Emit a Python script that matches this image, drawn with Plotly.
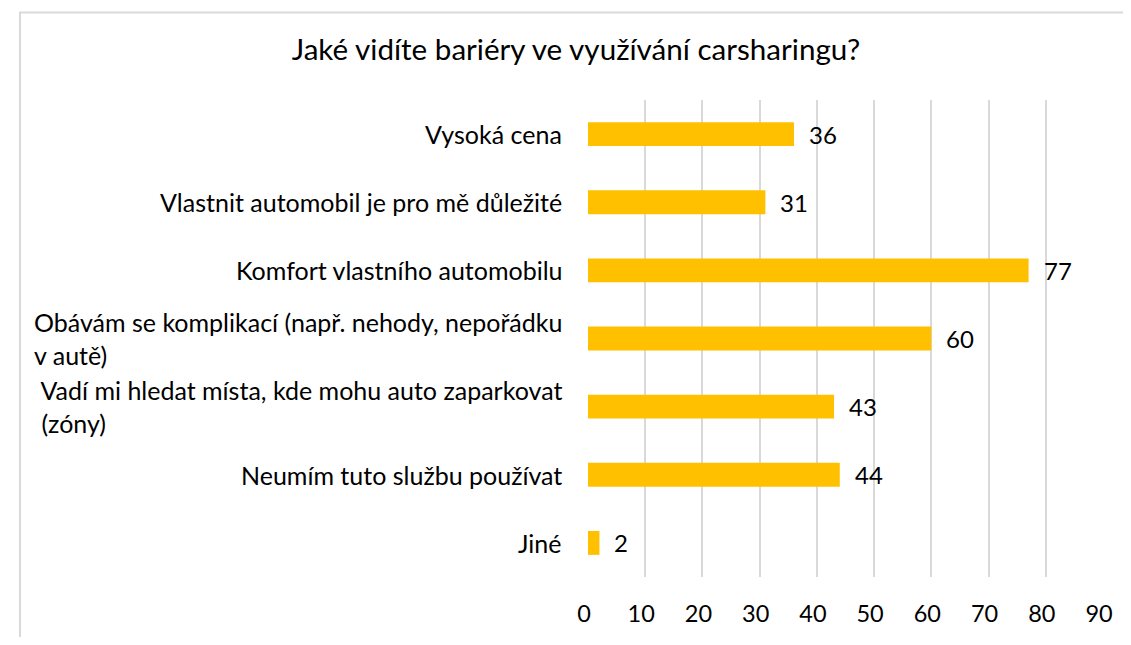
import plotly.graph_objects as go

categories = [
    "Vysoká cena",
    "Vlastnit automobil je pro mě důležité",
    "Komfort vlastního automobilu",
    "Obávám se komplikací (např. nehody, nepořádku<br>v autě)",
    " Vadí mi hledat místa, kde mohu auto zaparkovat<br> (zóny)",
    "Neumím tuto službu používat",
    "Jiné",
]
values = [36, 31, 77, 60, 43, 44, 2]
x_ticks = [0, 10, 20, 30, 40, 50, 60, 70, 80, 90]
title_text = "Jaké vidíte bariéry ve využívání carsharingu?"

FONT = "Lato"
OFF = 8  # page body margin on every side
W, H = 1131 - 2 * OFF, 645 - 2 * OFF
ML, MT = 588 - OFF, 100 - OFF
MR = W - (1113 - OFF)
MB = H - (590 - OFF)

fig = go.Figure()
fig.add_trace(go.Bar(
    x=values, y=categories, orientation="h",
    marker=dict(color="#FFC000", line=dict(width=0)),
    width=0.35, hoverinfo="x+y",
))

annotations = []
for c, v in zip(categories, values):
    annotations.append(dict(x=v, y=c, xref="x", yref="y", text=str(v), showarrow=False,
                            xanchor="left", xshift=13, font=dict(family=FONT, size=24, color="#000")))
    annotations.append(dict(x=0, y=c, xref="paper", yref="y", text=c, showarrow=False,
                            xanchor="right", xshift=-24, align="left",
                            font=dict(family=FONT, size=25, color="#000")))

pw = W - ML - MR
ph = H - MT - MB
bx0 = (1 - ML) / pw
by1 = (H - MB - 2) / ph

fig.update_layout(
    width=W, height=H,
    margin=dict(l=ML, r=MR, t=MT, b=MB),
    paper_bgcolor="white", plot_bgcolor="white",
    showlegend=False,
    title=dict(text=title_text, x=(576 - OFF) / W, xanchor="center", y=1 - (50 - OFF) / H, yanchor="middle",
               font=dict(family=FONT, size=29.6, color="#000")),
    xaxis=dict(range=[0, 90], tickvals=x_ticks, showgrid=True, gridcolor="#d9d9d9", gridwidth=2,
               zeroline=False, showline=False, ticks="", ticklabelstandoff=20,
               ticklabelshift=-4,
               tickfont=dict(family=FONT, size=23.5, color="#000")),
    yaxis=dict(categoryorder="array", categoryarray=categories, autorange="reversed",
               showticklabels=False, showgrid=False, zeroline=False, showline=False, ticks=""),
    annotations=annotations,
    shapes=[dict(type="rect", xref="paper", yref="paper", x0=bx0, x1=1.5, y0=-0.5, y1=by1,
                 line=dict(color="#d9d9d9", width=2), fillcolor="rgba(0,0,0,0)", layer="below")],
)

fig.write_html("out.html", config={"displayModeBar": False})
